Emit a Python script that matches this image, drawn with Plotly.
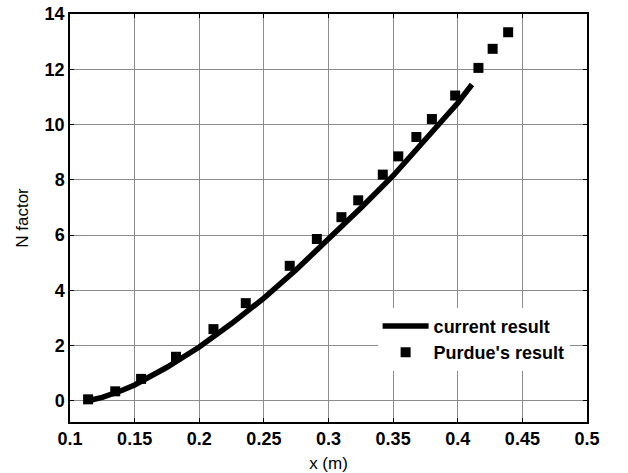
import plotly.graph_objects as go

# current result (line)
cur_x = [0.113, 0.125, 0.14, 0.15, 0.175, 0.2, 0.225, 0.25, 0.275, 0.3, 0.325, 0.35, 0.375, 0.4, 0.411]
cur_y = [0.0, 0.13, 0.38, 0.58, 1.22, 1.95, 2.8, 3.72, 4.75, 5.85, 6.98, 8.15, 9.45, 10.78, 11.45]

# Purdue's result (squares)
pur_x = [0.114, 0.135, 0.155, 0.182, 0.211, 0.236, 0.270, 0.291, 0.310, 0.323, 0.342,
         0.354, 0.368, 0.380, 0.398, 0.416, 0.427, 0.439]
pur_y = [0.06, 0.35, 0.80, 1.60, 2.60, 3.54, 4.89, 5.86, 6.65, 7.26, 8.19,
         8.85, 9.55, 10.20, 11.05, 12.05, 12.74, 13.34]

x_ticks = [0.1, 0.15, 0.2, 0.25, 0.3, 0.35, 0.4, 0.45, 0.5]
x_ticktext = ["0.1", "0.15", "0.2", "0.25", "0.3", "0.35", "0.4", "0.45", "0.5"]
y_ticks = [0, 2, 4, 6, 8, 10, 12, 14]

FONT = "Liberation Sans, Arial, sans-serif"

fig = go.Figure()
fig.add_trace(go.Scatter(x=cur_x, y=cur_y, mode="lines", name="current result",
                         line=dict(color="black", width=5.5)))
fig.add_trace(go.Scatter(x=pur_x, y=pur_y, mode="markers", name="Purdue's result",
                         marker=dict(symbol="square", color="black", size=10)))

axis_common = dict(
    showline=True, linecolor="black", linewidth=1.5, mirror="allticks",
    ticks="inside", ticklen=4, tickcolor="black",
    showgrid=True, gridcolor="#8c8c8c", gridwidth=1, zeroline=False,
    automargin=False,
    tickfont=dict(family=FONT, size=18, color="black", weight="bold"),
)

fig.update_layout(
    width=628, height=473,
    margin=dict(l=70, r=41, t=14, b=51),
    paper_bgcolor="white", plot_bgcolor="white",
    xaxis=dict(range=[0.1, 0.5], tickvals=x_ticks, ticktext=x_ticktext,
               title=dict(text="x (m)", font=dict(family=FONT, size=17, color="black"), standoff=12),
               **axis_common),
    yaxis=dict(range=[-0.76, 14], tickvals=y_ticks,
               title=dict(text="N factor", font=dict(family=FONT, size=17, color="black"), standoff=12),
               **axis_common),
    legend=dict(x=0.595, y=0.28, xanchor="left", yanchor="top",
                bgcolor="white", borderwidth=0, itemwidth=46,
                font=dict(family=FONT, size=18, color="black", weight="bold")),
    showlegend=True,
)

fig.write_html("out.html")
